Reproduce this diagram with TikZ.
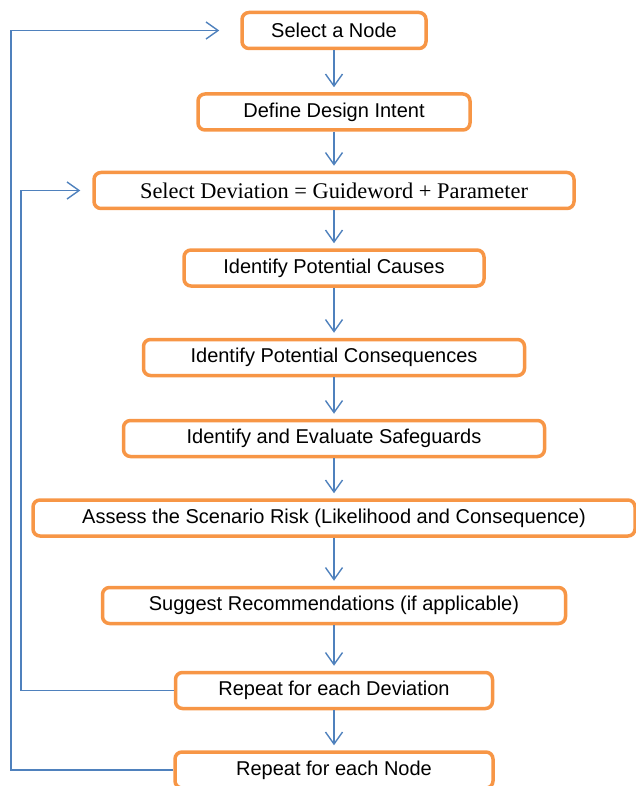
\documentclass[tikz,border=0pt]{standalone}
\usepackage{fontspec}
\setmainfont{Liberation Sans}
\newfontfamily\timesfont{Liberation Serif}
\usepackage{xcolor}
\usetikzlibrary{arrows.meta, positioning}
\definecolor{boxorange}{HTML}{F79646}
\definecolor{flowblue}{HTML}{4F81BD}

\begin{document}
\begin{tikzpicture}[x=1pt, y=-1pt, node distance=40pt]
  \tikzset{
    hbox/.style={rectangle, rounded corners=7pt, draw=boxorange, line width=3.5pt,
                 fill=white, minimum height=36pt, inner sep=0pt,
                 text centered, align=center, font=\fontsize{20}{24}\selectfont},
    arr/.style={-{Straight Barb[length=12pt, width=17pt]}, draw=flowblue,
                line width=1.4pt, shorten >=5pt}
  }
  \useasboundingbox (0,0) rectangle (636,786);
  \node[hbox, minimum width=184pt] (node) at (334,30.5) {Select a Node};
  \node[hbox, minimum width=272pt, below=42pt of node] (intent) {Define Design Intent};
  \node[hbox, minimum width=480pt, below=39pt of intent, font=\timesfont\fontsize{22.4}{26}\selectfont] (dev)
    {Select Deviation = Guideword + Parameter};
  \node[hbox, minimum width=300pt, below=38pt of dev] (cause) {Identify Potential Causes};
  \node[hbox, minimum width=381pt, below=50pt of cause] (cons) {Identify Potential Consequences};
  \node[hbox, minimum width=421pt, below=41.5pt of cons] (safe) {Identify and Evaluate Safeguards};
  \node[hbox, minimum width=602pt, below=40pt of safe] (risk)
    {Assess the Scenario Risk (Likelihood and Consequence)};
  \node[hbox, minimum width=463pt, below=48pt of risk] (rec) {Suggest Recommendations (if applicable)};
  \node[hbox, minimum width=317pt, below=45.5pt of rec] (rdev) {Repeat for each Deviation};
  \node[hbox, minimum width=318pt, below=40pt of rdev] (rnode) {Repeat for each Node};
  \foreach \a/\b in {node/intent,intent/dev,dev/cause,cause/cons,cons/safe,
                     safe/risk,risk/rec,rec/rdev,rdev/rnode}
    \draw[arr] (\a) -- (\b);
  % loops back
  \coordinate (devloop) at (21,0);
  \coordinate (nodeloop) at (11,0);
  \draw[arr, shorten >=12pt] (rdev.west) -- (rdev.west -| devloop)
    -- (dev.west -| devloop) -- (dev.west);
  \draw[arr, shorten >=21pt] (rnode.west) -- (rnode.west -| nodeloop)
    -- (node.west -| nodeloop) -- (node.west);
\end{tikzpicture}
\end{document}
